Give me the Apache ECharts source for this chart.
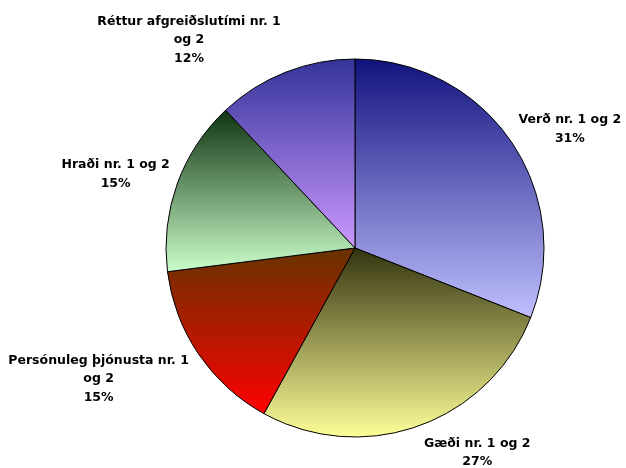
<!DOCTYPE html>
<html><head><meta charset="utf-8">
<script src="https://cdn.jsdelivr.net/npm/echarts@6/dist/echarts.min.js"></script>
<style>html,body{margin:0;padding:0;background:#fff}#c{width:626px;height:468px}</style>
</head><body><div id="c"></div>
<script>
const categories = ["Verð nr. 1 og 2", "Gæði nr. 1 og 2", "Persónuleg þjónusta nr. 1\nog 2", "Hraði nr. 1 og 2", "Réttur afgreiðslutími nr. 1\nog 2"];
const values = [31, 27, 15, 15, 12];
const topColors = ["#12127f", "#333310", "#663300", "#0f3310", "#333399"];
const bottomColors = ["#c0c0ff", "#ffff99", "#ff0000", "#ccffcc", "#cc99ff"];
const labelDx = [-14, -11.5, 11.5, 15, 12];
const labelDy = [-7, 17.5, 19, -6.5, -23];

function grad(i){
  return new echarts.graphic.LinearGradient(0,0,0,1,[{offset:0,color:topColors[i]},{offset:1,color:bottomColors[i]}]);
}
const chart = echarts.init(document.getElementById('c'));
chart.setOption({
  animation:false,
  series:[{
    type:'pie',
    center:[355,248],
    radius:189,
    startAngle:90,
    clockwise:true,
    avoidLabelOverlap:false,
    data: categories.map((n,i)=>({name:n,value:values[i],itemStyle:{color:grad(i)}})),
    itemStyle:{borderColor:'#000',borderWidth:1},
    label:{show:true,position:'outside',formatter:'{b}\n{d}%',color:'#000',
      fontFamily:'DejaVu Sans',fontWeight:'bold',fontSize:12.5,lineHeight:18.5},
    labelLine:{show:false,length:10,length2:8},
    labelLayout:function(p){
      const r=p.labelRect, i=p.dataIndex;
      return {x:r.x+r.width/2+labelDx[i], y:r.y+r.height/2+labelDy[i], align:'center', verticalAlign:'middle'};
    },
    emphasis:{disabled:true}
  }]
});
</script></body></html>
